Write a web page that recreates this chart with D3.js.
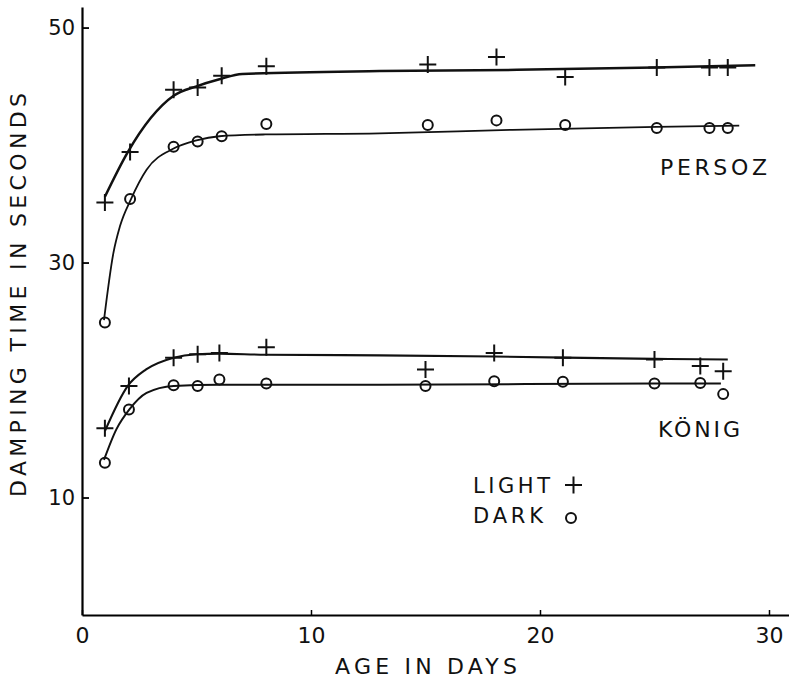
<!doctype html>
<html lang="en">

<head>
    <meta charset="UTF-8">
    <title>Damping time</title>
    <style>
        body { margin: 0; background: #fff; }
        text { font-family: "DejaVu Sans", sans-serif; fill: #111; }
    </style>
</head>

<body>
    <svg width="789" height="680"></svg>
    <script src="https://cdn.jsdelivr.net/npm/d3@7"></script>
    <script type="text/javascript">
    // measured points
    var persozDays = [1, 2.1, 4, 5.05, 6.1, 8.05, 15.1, 18.1, 21.1, 25.1, 27.4, 28.2];
    var persozLight = [35.1, 39.4, 44.7, 44.9, 45.9, 46.7, 46.85, 47.5, 45.8, 46.6, 46.6, 46.6];
    var persozDark = [24.9, 35.4, 39.85, 40.3, 40.75, 41.8, 41.7, 42.1, 41.7, 41.45, 41.45, 41.45];
    var konigDays = [1, 2.05, 4, 5.05, 6, 8.05, 15, 18, 21, 25, 27, 28];
    var konigLight = [15.9, 19.5, 21.9, 22.2, 22.3, 22.8, 20.9, 22.3, 21.9, 21.75, 21.2, 20.75];
    var konigDark = [12.95, 17.5, 19.55, 19.5, 20.05, 19.7, 19.5, 19.9, 19.85, 19.7, 19.75, 18.8];

    // hand drawn fitted curves
    var persozLightFitDays = [1, 2, 3, 4, 5, 6, 7, 13, 19, 25, 29.4];
    var persozLightFit = [35.6, 39.4, 42.3, 44.2, 45.0, 45.6, 46.05, 46.3, 46.4, 46.6, 46.8];
    var persozDarkFitDays = [0.96, 1.37, 1.66, 2.14, 2.82, 4, 5, 6, 8, 13, 18.8, 25.1, 28.7];
    var persozDarkFit = [25.1, 30.8, 33.1, 35.4, 37.9, 39.7, 40.4, 40.75, 40.9, 41.0, 41.3, 41.55, 41.65];
    var konigLightFitDays = [1, 2, 2.8, 4, 5, 6, 8, 13, 18, 25, 28.2];
    var konigLightFit = [15.65, 19.5, 20.9, 21.9, 22.2, 22.25, 22.15, 22.1, 22.0, 21.8, 21.75];
    var konigDarkFitDays = [0.96, 1.5, 2.07, 2.82, 4, 6, 13, 25, 27.9];
    var konigDarkFit = [13.2, 15.8, 17.5, 18.9, 19.5, 19.6, 19.6, 19.7, 19.7];

    var xTicks = [0, 10, 20, 30];
    var yTicks = [10, 30, 50];

    var svg = d3.select('svg');

    var x = d3.scaleLinear()
        .domain([0, 30.9])
        .range([82, 789.6]);
    var y = d3.scaleLinear()
        .domain([0, 51.75])
        .range([615, 7]);

    // axes
    var xAxis = svg.append('g')
        .attr('transform', 'translate(0,' + y(0) + ')')
        .call(d3.axisBottom(x).tickValues(xTicks).tickFormat(d3.format('d'))
            .tickSizeInner(-5).tickSizeOuter(0).tickPadding(12));
    xAxis.select('.domain').attr('stroke-width', 2.2);
    xAxis.selectAll('.tick line').attr('stroke-width', 1.5);
    xAxis.selectAll('text').style('font-size', '22px').attr('fill', '#111');

    var yAxis = svg.append('g')
        .attr('transform', 'translate(' + x(0) + ',0)')
        .call(d3.axisLeft(y).tickValues(yTicks).tickFormat(d3.format('d'))
            .tickSizeInner(-7).tickSizeOuter(0).tickPadding(7));
    yAxis.select('.domain').attr('stroke-width', 2.2);
    yAxis.selectAll('.tick line').attr('stroke-width', 1.8);
    yAxis.selectAll('text').style('font-size', '21px').attr('fill', '#111');

    svg.append('text')
        .text('AGE IN DAYS')
        .attr('x', 335)
        .attr('y', 674)
        .attr('textLength', 182)
        .attr('lengthAdjust', 'spacing')
        .style('font-size', '22px');

    svg.append('text')
        .text('DAMPING TIME IN SECONDS')
        .attr('transform', 'translate(26,497) rotate(-90)')
        .attr('textLength', 404)
        .attr('lengthAdjust', 'spacing')
        .style('font-size', '22px');

    // curves
    function fitPath(days, vals) {
        var line = d3.line()
            .x(function(d, i) { return x(days[i]); })
            .y(function(d) { return y(d); })
            .curve(d3.curveMonotoneX);
        return line(vals);
    }
    var curves = svg.append('g').attr('fill', 'none').attr('stroke', '#111');
    curves.append('path').attr('d', fitPath(persozLightFitDays, persozLightFit)).attr('stroke-width', 2.5);
    curves.append('path').attr('d', fitPath(persozDarkFitDays, persozDarkFit)).attr('stroke-width', 1.8);
    curves.append('path').attr('d', fitPath(konigLightFitDays, konigLightFit)).attr('stroke-width', 2.1);
    curves.append('path').attr('d', fitPath(konigDarkFitDays, konigDarkFit)).attr('stroke-width', 2);

    // markers
    function plusMarks(days, vals) {
        svg.append('g')
            .selectAll('path')
            .data(vals)
            .enter()
            .append('path')
            .attr('d', function(d, i) {
                var cx = x(days[i]), cy = y(d);
                return 'M' + (cx - 8.5) + ',' + cy + 'H' + (cx + 8.5) +
                    'M' + cx + ',' + (cy - 8.5) + 'V' + (cy + 8.5);
            })
            .attr('stroke', '#111')
            .attr('stroke-width', 2);
    }
    function circleMarks(days, vals) {
        svg.append('g')
            .selectAll('circle')
            .data(vals)
            .enter()
            .append('circle')
            .attr('cx', function(d, i) { return x(days[i]); })
            .attr('cy', function(d) { return y(d); })
            .attr('r', 5)
            .attr('fill', 'none')
            .attr('stroke', '#111')
            .attr('stroke-width', 2);
    }
    plusMarks(persozDays, persozLight);
    circleMarks(persozDays, persozDark);
    plusMarks(konigDays, konigLight);
    circleMarks(konigDays, konigDark);

    // labels
    svg.append('text')
        .text('PERSOZ')
        .attr('x', 660)
        .attr('y', 175)
        .attr('textLength', 107)
        .attr('lengthAdjust', 'spacing')
        .style('font-size', '22px');
    svg.append('text')
        .text('KÖNIG')
        .attr('x', 658)
        .attr('y', 437)
        .attr('textLength', 82)
        .attr('lengthAdjust', 'spacing')
        .style('font-size', '22px');

    // legend
    var legend = svg.append('g');
    legend.append('text')
        .text('LIGHT')
        .attr('x', 473)
        .attr('y', 493)
        .attr('textLength', 77)
        .attr('lengthAdjust', 'spacing')
        .style('font-size', '21px');
    legend.append('path')
        .attr('d', 'M565,485H582M573.5,476.5V493.5')
        .attr('stroke', '#111')
        .attr('stroke-width', 2);
    legend.append('text')
        .text('DARK')
        .attr('x', 473)
        .attr('y', 523)
        .attr('textLength', 70)
        .attr('lengthAdjust', 'spacing')
        .style('font-size', '21px');
    legend.append('circle')
        .attr('cx', 571)
        .attr('cy', 518)
        .attr('r', 5)
        .attr('fill', 'none')
        .attr('stroke', '#111')
        .attr('stroke-width', 2);
    </script>
</body>

</html>
